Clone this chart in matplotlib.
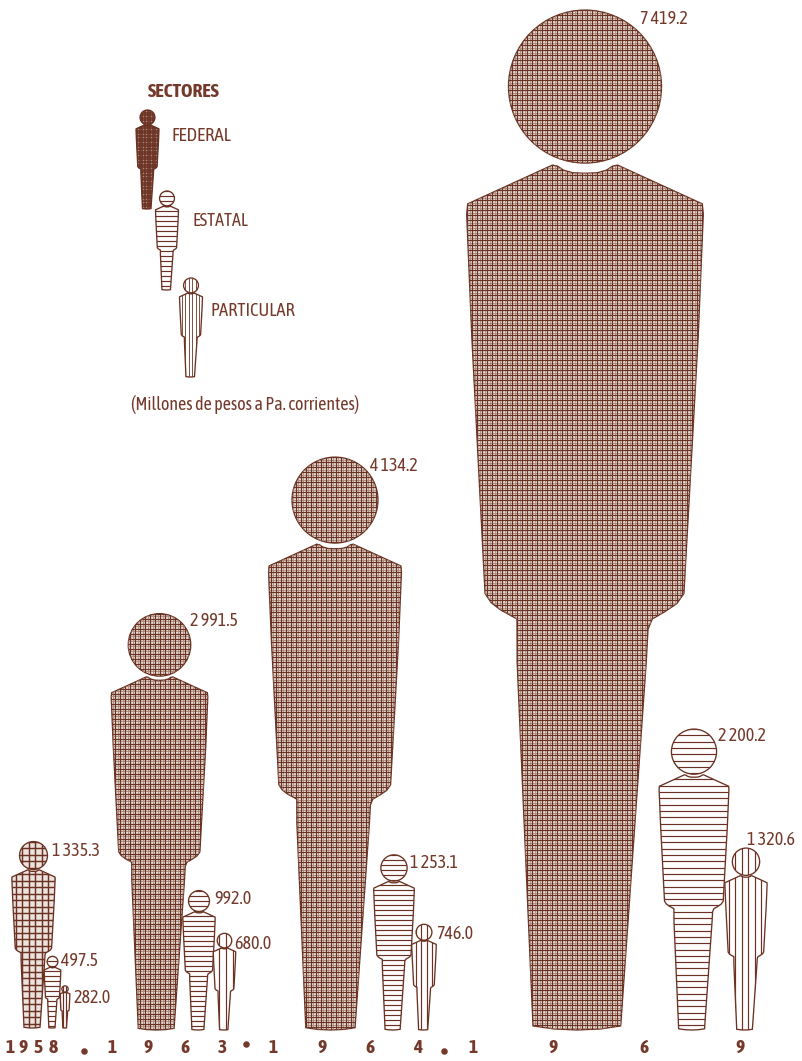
import numpy as np
import matplotlib
matplotlib.use('Agg')
import matplotlib.pyplot as plt
from matplotlib.path import Path
from matplotlib.patches import PathPatch
from matplotlib.collections import LineCollection

# values (millones de pesos)
federal = [1335.3, 2991.5, 4134.2, 7419.2]
estatal = [497.5, 992.0, 1253.1, 2200.2]
particular = [282.0, 680.0, 746.0, 1320.6]

# layout, in pixels
federal_x = [33.5, 159.5, 335, 585]
estatal_x = [52.5, 199, 394, 694]
particular_x = [65, 224.5, 424, 746]
baseline = [1028, 1030, 1030, 1030]
federal_gap = [6.5, 5, 5, 5]
estatal_gap = [5, 5, 5, 6.3]
particular_gap = [3.4, 7, 5.5, 6.5]
federal_fit = [0, 3, 3, 0]
estatal_fit = [0, 0, 0, -4]
particular_fit = [0, 0, 0, -2.5]
federal_lab = [(52, 851), (190, 621), (370, 466), (640, 19)]
estatal_lab = [(61, 961), (214, 899), (410, 863), (718, 736)]
particular_lab = [(73, 998), (234, 944), (436, 934), (747, 840)]

year_chars = list('1958196319641969')
year_x = [10, 23, 38, 53, 112, 148, 185, 222, 273, 322, 370, 418, 473, 553, 644, 740]
dot_x = [84, 246, 444]
dot_y = [1051, 1044, 1051]

COLOR = '#6b3223'
TEXT = '#74392a'
plt.rcParams['font.family'] = ['Asap Condensed', 'Archivo Narrow', 'Roboto', 'DejaVu Sans']

# body outline relative to a figure of height 1, clockwise from the neck dip
# the legs lean a little to the left, as in the original drawing
body_shape = [(0.0, 0.160), (0.012, 0.1595), (0.021, 0.157), (0.027, 0.153), (0.032, 0.152),
              (0.115, 0.190), (0.116, 0.2), (0.111, 0.32), (0.097, 0.572), (0.090, 0.582),
              (0.078, 0.590), (0.066, 0.597), (0.0618, 0.607), (0.060, 0.64),
              (0.035, 0.996), (0.015, 0.999), (-0.008, 1.0), (-0.030, 0.999), (-0.051, 0.996),
              (-0.0665, 0.640), (-0.0667, 0.597), (-0.083, 0.588), (-0.092, 0.581), (-0.098, 0.572),
              (-0.111, 0.32), (-0.116, 0.2), (-0.115, 0.190), (-0.032, 0.152), (-0.027, 0.153),
              (-0.021, 0.157), (-0.012, 0.1595)]


def person_path(cx, top, h):
    pts = [(cx + x * h, top + y * h) for x, y in body_shape]
    body = Path(pts + [pts[0]], closed=False)
    head = Path.circle((cx, top + 0.075 * h), 0.075 * h)
    return Path.make_compound_path(body, head)


def grid_segments(cx, top, bottom, half, gap, horiz, vert, shift=0.0):
    segs = []
    if horiz:
        for y in np.arange(top + shift, bottom + gap, gap):
            segs.append([(cx - half, y), (cx + half, y)])
    if vert:
        for x in np.arange(cx - half + shift, cx + half + gap, gap):
            segs.append([(x, top), (x, bottom)])
    return segs


def draw_person(ax, cx, bottom, h, gap, horiz=True, vert=True, lw=0.85, under='white', plaid=False):
    top = bottom - h
    path = person_path(cx, top, h)
    patch = PathPatch(path, facecolor=under, edgecolor=COLOR, lw=0.95, zorder=3)
    ax.add_patch(patch)
    half = 0.13 * h
    if plaid:
        # the mid-tone lines between the dark ones give the woven look
        pale = LineCollection(grid_segments(cx, top, bottom, half, gap, horiz, vert, gap / 2),
                              colors='#a98878', linewidths=0.6, zorder=3.2)
        ax.add_collection(pale)
        pale.set_clip_path(patch)
    lines = LineCollection(grid_segments(cx, top, bottom, half, gap, horiz, vert),
                           colors=COLOR, linewidths=lw, zorder=3.5)
    ax.add_collection(lines)
    lines.set_clip_path(patch)


def height(v):
    return 3.5 + 0.137 * v


fig = plt.figure(figsize=(8.02, 10.61), dpi=100)
ax = fig.add_axes([0, 0, 1, 1])
ax.set_xlim(0, 802)
ax.set_ylim(1061, 0)
ax.axis('off')

for i in range(4):
    draw_person(ax, federal_x[i], baseline[i], height(federal[i]) + federal_fit[i], federal_gap[i],
                under='#e6dbd5' if i > 0 else '#ece3de', lw=0.85 if i > 0 else 1.05, plaid=i > 0)
    draw_person(ax, estatal_x[i], baseline[i], height(estatal[i]) + estatal_fit[i], estatal_gap[i], vert=False)
    draw_person(ax, particular_x[i], baseline[i], height(particular[i]) + particular_fit[i], particular_gap[i],
                horiz=False)


def fmt(v):
    return f'{v:,.1f}'.replace(',', '\u2009')


for vals, labs in [(federal, federal_lab), (estatal, estatal_lab), (particular, particular_lab)]:
    for v, (x, y) in zip(vals, labs):
        ax.text(x, y, fmt(v), color=TEXT, fontsize=13, ha='left', va='center')

# legend
draw_person(ax, 147.5, 209, 99, 2.6, lw=1.1, under='#a98a7e')
draw_person(ax, 167, 290, 99, 5, vert=False)
draw_person(ax, 191, 377, 99, 3.5, horiz=False, lw=0.6)
ax.text(148, 92, 'SECTORES', color=TEXT, fontsize=14, fontweight='bold', va='center')
ax.text(171.5, 136, 'FEDERAL', color=TEXT, fontsize=13.6, va='center')
ax.text(192, 221, 'ESTATAL', color=TEXT, fontsize=13, va='center')
ax.text(210, 311, 'PARTICULAR', color=TEXT, fontsize=13.3, va='center')
ax.text(131, 405, '(Millones de pesos a Pa. corrientes)', color=TEXT, fontsize=13, va='center')

# year strip
for ch, x in zip(year_chars, year_x):
    ax.text(x, 1048, ch, color=TEXT, fontsize=14, fontweight='bold', ha='center', va='center')
ax.scatter(dot_x, dot_y, s=22, color=TEXT, linewidths=0)

fig.savefig('out.png', dpi=100)
